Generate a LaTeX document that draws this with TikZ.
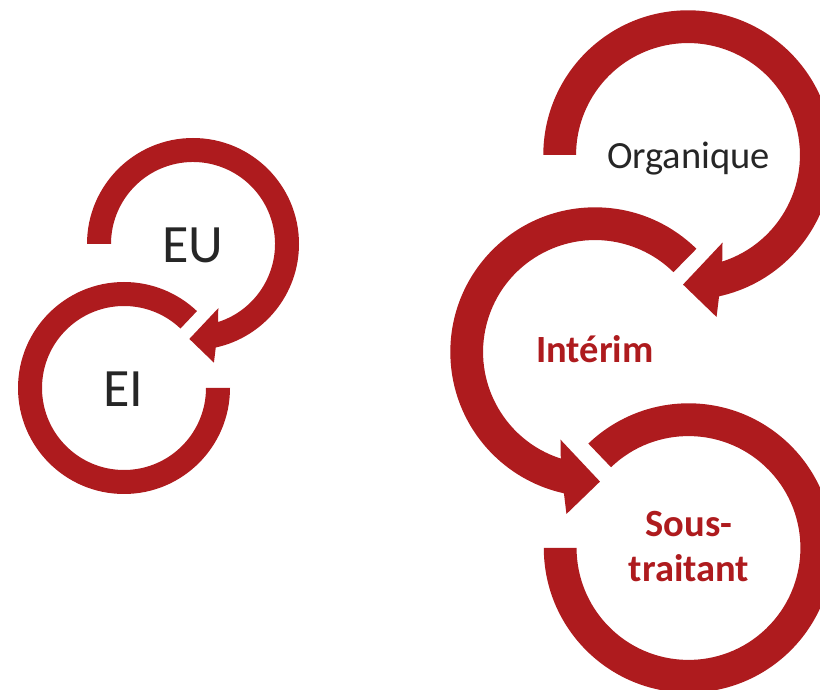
\documentclass[tikz,border=0pt]{standalone}
\usepackage{fontspec}
\setmainfont{Carlito}
\usepackage{tikz}
\usetikzlibrary{positioning, calc}
\definecolor{ringred}{HTML}{AE1B1E}
\definecolor{textgray}{HTML}{262626}
\tikzset{
    ring/.style = {fill=ringred, draw=none},
    bignode/.style = {anchor=base, inner sep=0pt, text=textgray,
        font=\fontsize{54}{60}\selectfont},
    plainnode/.style = {anchor=base, inner sep=0pt, text=textgray,
        font=\fontsize{38.5}{45}\selectfont},
    rednode/.style = {anchor=base, inner sep=0pt, text=ringred, align=center,
        font=\fontsize{38.5}{45}\selectfont\bfseries},
    pics/arrowring/.style = {code={
        \fill[ring] (#1:106) arc[start angle=#1, end angle=-77.6, radius=106]
            -- (-80:120.5) -- (-92.2:95) -- (-68.5:69) -- (-72.2:82)
            arc[start angle=-72.2, end angle=#1, radius=82] -- cycle;
    }},
    pics/plainring/.style 2 args = {code={
        \fill[ring] (#1:106) arc[start angle=#1, end angle=#2, radius=106]
            -- (#2:82) arc[start angle=#2, end angle=#1, radius=82] -- cycle;
    }},
}

\begin{document}
\begin{tikzpicture}[x=1pt, y=1pt]
        \useasboundingbox (0,0) rectangle (820,689);
        \clip (0,0) rectangle (820,689);
        % centres of the rings
        \coordinate (eu) at (193,445);
        \coordinate (ei) at (124,301);
        \coordinate (org) at (688,534);
        \coordinate (int) at (595,337);
        \coordinate (sous) at (688.5,141);
        % left pair
        \pic at (eu) {arrowring=180};
        \pic at (ei) {plainring={0}{-313.5}};
        \node [bignode] (eutext) at (193,426.3) {EU};
        \node [bignode] (eitext) at (123.5,282.3) {EI};
        % right chain
        \pic [scale=1.365] at (org) {arrowring=180};
        \pic [xscale=-1.365, yscale=1.365] at (int) {arrowring=134.5};
        \pic [scale=1.365] at (sous) {plainring={180}{493.8}};
        \node [plainnode] (orgtext) at (688.5,520.7) {Organique};
        \node [rednode] (inttext) at (595,326.3) {Intérim};
        \node [rednode] (soustext) at (689,107.3) {Sous-\\traitant};
\end{tikzpicture}
\end{document}
